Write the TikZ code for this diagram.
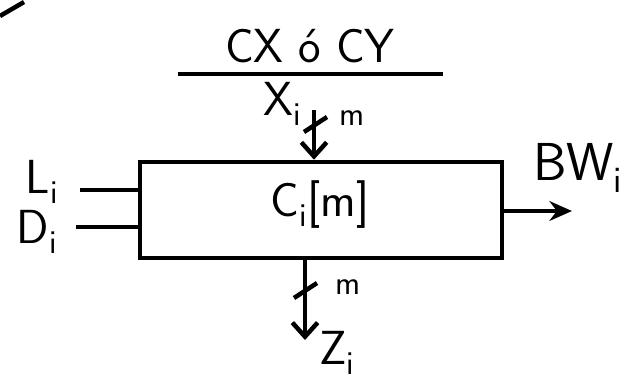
\documentclass[tikz,border=0pt]{standalone}
\usepackage{tikz}
\usetikzlibrary{arrows.meta, positioning, calc}

\begin{document}
\begin{tikzpicture}[x=0.025cm, y=-0.025cm, line width=3.2pt,
    lbl/.style={font=\fontsize{34}{36}\selectfont\sffamily, inner sep=1pt},
    small/.style={font=\fontsize{24}{26}\selectfont\sffamily, inner sep=1pt},
    flow/.style={-{Stealth[length=16pt, width=14pt]}},
    drop/.style={-{Straight Barb[length=10pt, width=18pt]}}]
  \useasboundingbox (0,0) rectangle (624,383);

  \draw (0,16) -- (24,2);

  \node[lbl] (title) at (310,46) {CX ó CY};
  \draw (178,74) -- (443,74);

  \node[draw, minimum width=9.05cm, minimum height=2.4cm, inner sep=0pt] (box) at (321,210) {};
  \node[lbl] (cm) at (320,205) {C\textsubscript{i}[m]};

  % top input
  \node[lbl] (xi) at (283,104) {X\textsubscript{i}};
  \coordinate (xin) at (314,110);
  \draw[drop] (xin) -- (xin |- box.north);
  \draw (304,132) -- (327,117);
  \node[small] (mtop) at (352,118) {m};

  % left inputs
  \node[lbl] (li) at (42,182) {L\textsubscript{i}};
  \node[lbl] (di) at (37,232) {D\textsubscript{i}};
  \coordinate (lin) at (80,190);
  \coordinate (din) at (76,227);
  \draw (lin) -- (lin -| box.west);
  \draw (din) -- (din -| box.west);

  % right output
  \node[lbl, font=\fontsize{38}{40}\selectfont\sffamily] (bw) at (578,168) {BW\textsubscript{i}};
  \coordinate (bwout) at (572,211);
  \draw[flow] (bwout -| box.east) -- (bwout);

  % bottom output
  \coordinate (zout) at (305,340);
  \draw[drop] (zout |- box.south) -- (zout);
  \draw (294,298) -- (317,283);
  \node[small] (mbot) at (348,287) {m};
  \node[lbl] (zi) at (337,353) {Z\textsubscript{i}};
\end{tikzpicture}
\end{document}
